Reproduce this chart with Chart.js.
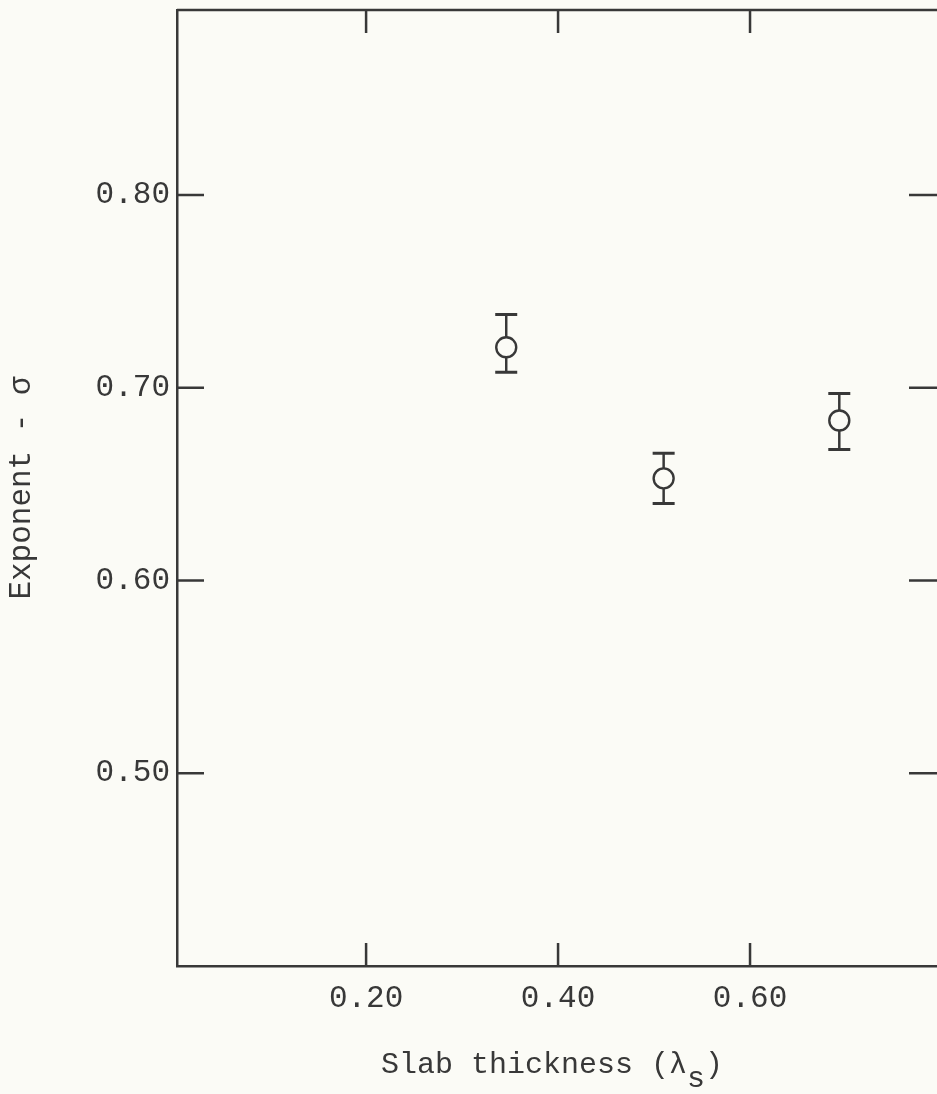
<!DOCTYPE html>
<html><head><meta charset="utf-8">
<style>
html,body{margin:0;padding:0;background:#fbfbf6;overflow:hidden;width:937px;height:1094px;position:relative}
#wrap{position:absolute;left:0;top:0;width:950px;height:1094px}
canvas{display:block}
</style>
<script src="https://cdn.jsdelivr.net/npm/chart.js@4.4.1/dist/chart.umd.min.js"></script>
</head><body>
<div id="wrap"><canvas id="c" width="950" height="1094" style="width:950px;height:1094px"></canvas></div>
<script>
const slabThickness = [0.346, 0.510, 0.693];
const exponentSigma = [0.721, 0.653, 0.683];
const errorUpper = [0.738, 0.666, 0.697];
const errorLower = [0.708, 0.640, 0.668];
const xTickValues = [0.20, 0.40, 0.60];
const yTickValues = [0.50, 0.60, 0.70, 0.80];
const xTitleMain = 'Slab thickness (λ';
const xTitleSub = 's';
const xTitleEnd = ')';
const yTitle = 'Exponent - σ';

const ink = '#383838';
const paper = '#fbfbf6';
const fontFamily = '"Liberation Mono", "DejaVu Sans Mono", monospace';

const framePlugin = {
  id: 'frame',
  beforeDatasetsDraw(chart) {
    const {ctx, scales: {x, y}} = chart;
    ctx.save();
    ctx.strokeStyle = ink;
    for (let i = 0; i < slabThickness.length; i++) {
      const px = x.getPixelForValue(slabThickness[i]);
      const pt = y.getPixelForValue(errorUpper[i]);
      const pb = y.getPixelForValue(errorLower[i]);
      ctx.lineWidth = 2.5;
      ctx.beginPath();
      ctx.moveTo(px, pt); ctx.lineTo(px, pb);
      ctx.stroke();
      ctx.lineWidth = 3;
      ctx.beginPath();
      ctx.moveTo(px - 11, pt); ctx.lineTo(px + 11, pt);
      ctx.moveTo(px - 11, pb); ctx.lineTo(px + 11, pb);
      ctx.stroke();
    }
    ctx.restore();
  },
  afterDraw(chart) {
    const {ctx, chartArea: a, scales: {x, y}} = chart;
    ctx.save();
    ctx.strokeStyle = ink;
    ctx.lineWidth = 2.5;
    ctx.beginPath();
    ctx.moveTo(a.left, a.top); ctx.lineTo(a.right, a.top);
    ctx.moveTo(a.right, a.top); ctx.lineTo(a.right, a.bottom);
    for (const v of xTickValues) {
      const px = x.getPixelForValue(v);
      ctx.moveTo(px, a.bottom); ctx.lineTo(px, a.bottom - 23);
      ctx.moveTo(px, a.top); ctx.lineTo(px, a.top + 23);
    }
    for (const v of yTickValues) {
      const py = y.getPixelForValue(v);
      ctx.moveTo(a.left, py); ctx.lineTo(a.left + 27, py);
      ctx.moveTo(a.right, py); ctx.lineTo(a.right - 33, py);
    }
    ctx.stroke();
    // x axis title with subscript
    ctx.fillStyle = ink;
    ctx.font = '30px ' + fontFamily;
    ctx.textBaseline = 'alphabetic';
    ctx.textAlign = 'left';
    const w1 = ctx.measureText(xTitleMain).width;
    const w2 = ctx.measureText(xTitleSub).width;
    const w3 = ctx.measureText(xTitleEnd).width;
    const total = w1 + w2 + w3;
    let sx = 552 - total / 2;
    const base = 1073;
    ctx.fillText(xTitleMain, sx, base);
    ctx.fillText(xTitleSub, sx + w1, base + 14);
    ctx.fillText(xTitleEnd, sx + w1 + w2, base);
    ctx.restore();
  }
};

new Chart(document.getElementById('c'), {
  type: 'scatter',
  data: {
    datasets: [{
      data: slabThickness.map((v, i) => ({x: v, y: exponentSigma[i]})),
      pointRadius: 10,
      pointHoverRadius: 10,
      pointBorderWidth: 2.4,
      borderColor: ink,
      backgroundColor: paper,
      showLine: false
    }]
  },
  options: {
    responsive: false,
    maintainAspectRatio: false,
    animation: false,
    devicePixelRatio: 1,
    layout: {autoPadding: false, padding: {left: 0, top: 10, right: 8, bottom: 0}},
    plugins: {legend: {display: false}, tooltip: {enabled: false}},
    events: [],
    scales: {
      x: {
        type: 'linear',
        position: 'bottom',
        min: 0.003,
        max: 0.80,
        grid: {display: false, drawTicks: false},
        border: {display: true, color: ink, width: 2.5},
        ticks: {
          color: ink,
          font: {family: fontFamily, size: 31},
          padding: 14,
          maxRotation: 0,
          autoSkip: false,
          callback: v => Number(v).toFixed(2)
        },
        afterBuildTicks: s => { s.ticks = xTickValues.map(v => ({value: v})); },
        afterFit: s => { s.height = 128; s.paddingLeft = 0; s.paddingRight = 0; }
      },
      y: {
        type: 'linear',
        position: 'left',
        min: 0.40,
        max: 0.896,
        grid: {display: false, drawTicks: false},
        border: {display: true, color: ink, width: 2.5},
        ticks: {
          color: ink,
          font: {family: fontFamily, size: 31},
          padding: 7,
          autoSkip: false,
          callback: v => Number(v).toFixed(2)
        },
        title: {
          display: true,
          text: yTitle,
          color: ink,
          font: {family: fontFamily, size: 31},
          padding: {top: 3, bottom: 0}
        },
        afterBuildTicks: s => { s.ticks = yTickValues.map(v => ({value: v})); },
        afterFit: s => { s.width = 177; s.paddingTop = 0; s.paddingBottom = 0; }
      }
    }
  },
  plugins: [framePlugin]
});
</script>
</body></html>
